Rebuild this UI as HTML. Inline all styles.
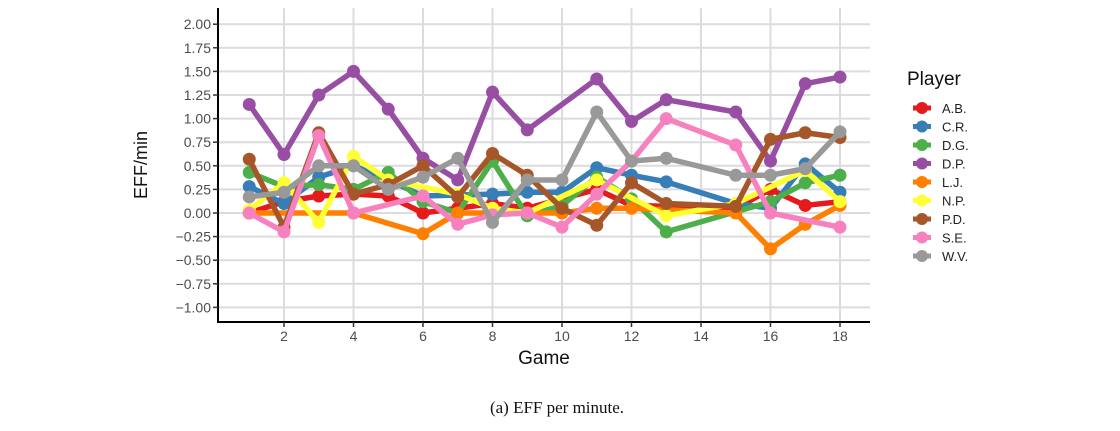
<!DOCTYPE html>
<html><head><meta charset="utf-8"><style>body{margin:0;background:#fff}svg{display:block}</style></head>
<body>
<svg id="s" width="1120" height="431" xmlns="http://www.w3.org/2000/svg" font-family="Liberation Sans, sans-serif"></svg>
<script>
const s=document.getElementById('s');
const X=g=>249.25+(g-1)*34.75, Y=v=>213-v*94.4;
let h='';
// grid
for(let v=-1;v<=2.001;v+=0.25){h+=`<line x1="218" x2="870" y1="${Y(v)}" y2="${Y(v)}" stroke="#dcdce0" stroke-width="2"/>`;
h+=`<text x="211" y="${Y(v)+5}" text-anchor="end" font-size="14" fill="#4d4d4d">${v.toFixed(2).replace('-','−')}</text>`;}
for(let g=2;g<=18;g+=2){h+=`<line x1="${X(g)}" x2="${X(g)}" y1="8" y2="322" stroke="#dcdce0" stroke-width="2"/>`;
h+=`<text x="${X(g)}" y="341" text-anchor="middle" font-size="14" fill="#4d4d4d">${g}</text>`;}
const D=[
['A.B.','#E41A1C',{1:0,2:.12,3:.18,4:.2,5:.18,6:0,7:.05,8:.1,9:.05,11:.25,12:.08,15:.05,16:.25,17:.08,18:.12}],
['C.R.','#377EB8',{1:.28,2:.1,3:.38,4:.5,5:.35,6:.18,8:.2,9:.22,10:.22,11:.48,12:.4,13:.33,15:.1,16:.05,17:.52,18:.22}],
['D.G.','#4DAF4A',{1:.43,2:.28,3:.3,4:.25,5:.43,6:.12,7:0,8:.55,9:-.03,10:.08,11:.38,12:.15,13:-.2,16:.12,17:.32,18:.4}],
['D.P.','#984EA3',{1:1.15,2:.62,3:1.25,4:1.5,5:1.1,6:.58,7:.35,8:1.28,9:.88,11:1.42,12:.97,13:1.2,15:1.07,16:.55,17:1.37,18:1.44}],
['L.J.','#FF7F00',{1:0,4:0,6:-.22,7:0,8:0,10:0,11:.05,12:.05,15:0,16:-.38,17:-.12,18:.08}],
['N.P.','#FFFF33',{1:.03,2:.32,3:-.1,4:.6,5:.35,7:.2,8:.05,9:0,11:.35,13:-.03,15:.1,17:.45,18:.12}],
['P.D.','#A65628',{1:.57,2:-.15,3:.85,4:.2,5:.3,6:.5,7:.17,8:.63,9:.4,10:.05,11:-.13,12:.32,13:.1,15:.07,16:.78,17:.85,18:.8}],
['S.E.','#F781BF',{1:0,2:-.2,3:.82,4:0,6:.18,7:-.12,8:-.02,9:0,10:-.15,11:.2,12:.55,13:1,15:.72,16:0,18:-.15}],
['W.V.','#999999',{1:.17,2:.22,3:.5,4:.5,5:.25,6:.38,7:.58,8:-.1,9:.35,10:.35,11:1.07,12:.55,13:.58,15:.4,16:.4,17:.47,18:.86}]];
D.forEach(([n,c,d],i)=>{const pts=Object.keys(d).map(Number).sort((a,b)=>a-b).map(g=>[X(g),Y(d[g])]);
h+=`<polyline points="${pts.map(p=>p.join(',')).join(' ')}" fill="none" stroke="${c}" stroke-width="5.5" stroke-linejoin="round"/>`;
pts.forEach(p=>h+=`<circle cx="${p[0]}" cy="${p[1]}" r="6.5" fill="${c}"/>`);
const ly=108+i*18.5;
h+=`<line x1="913" x2="931" y1="${ly}" y2="${ly}" stroke="${c}" stroke-width="5"/><circle cx="922" cy="${ly}" r="6" fill="${c}"/>`;
h+=`<text x="942" y="${ly+5}" font-size="13" fill="#222">${n}</text>`;});
h+=`<line x1="218" x2="218" y1="8" y2="322" stroke="#000" stroke-width="2"/><line x1="217" x2="870" y1="322" y2="322" stroke="#000" stroke-width="2"/>`;
for(let v=-1;v<=2.001;v+=0.25)h+=`<line x1="213" x2="218" y1="${Y(v)}" y2="${Y(v)}" stroke="#333" stroke-width="1.5"/>`;
for(let g=2;g<=18;g+=2)h+=`<line x1="${X(g)}" x2="${X(g)}" y1="322" y2="327" stroke="#333" stroke-width="1.5"/>`;
h+=`<text x="544" y="364" text-anchor="middle" font-size="19" fill="#111">Game</text>`;
h+=`<text transform="translate(147,165) rotate(-90)" text-anchor="middle" font-size="18" fill="#111">EFF/min</text>`;
h+=`<text x="907" y="85" font-size="19" fill="#111">Player</text>`;
h+=`<text x="557" y="413" text-anchor="middle" font-size="17" font-family="Liberation Serif, serif" fill="#111">(a) EFF per minute.</text>`;
s.innerHTML=h;
</script>
</body></html>
